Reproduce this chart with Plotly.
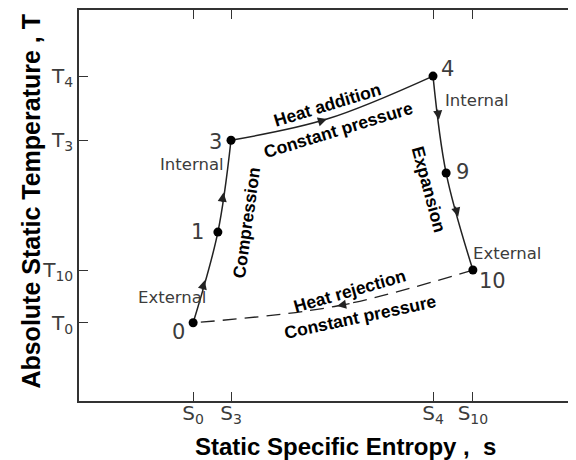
import plotly.graph_objects as go

# ---- data ----
state_labels = ["0", "1", "3", "4", "9", "10"]
state_s = [2.26, 2.75, 3.01, 7.01, 7.27, 7.80]
state_T = [2.00, 4.32, 6.67, 8.31, 5.83, 3.35]

heat_add_mid = [4.91, 7.21]      # s, T on the heat-addition curve
heat_rej_mid = [5.11, 2.43]      # s, T on the heat-rejection curve

s_tick_labels = ["S<sub>0</sub>", "S<sub>3</sub>", "S<sub>4</sub>", "S<sub>10</sub>"]
T_tick_labels = ["T<sub>0</sub>", "T<sub>3</sub>", "T<sub>10</sub>", "T<sub>4</sub>"]

S = dict(zip(state_labels, zip(state_s, state_T)))

LINE = "#222222"
TXT = "#3c3c3c"
fig = go.Figure()

# compression 0 -> 1 -> 3
fig.add_trace(go.Scatter(x=[S[k][0] for k in ["0", "1", "3"]], y=[S[k][1] for k in ["0", "1", "3"]],
                         mode="lines", line=dict(color=LINE, width=1.5, shape="spline"), hoverinfo="skip"))
# heat addition 3 -> 4
fig.add_trace(go.Scatter(x=[S["3"][0], heat_add_mid[0], S["4"][0]], y=[S["3"][1], heat_add_mid[1], S["4"][1]],
                         mode="lines", line=dict(color=LINE, width=1.5, shape="spline"), hoverinfo="skip"))
# expansion 4 -> 9 -> 10
fig.add_trace(go.Scatter(x=[S[k][0] for k in ["4", "9", "10"]], y=[S[k][1] for k in ["4", "9", "10"]],
                         mode="lines", line=dict(color=LINE, width=1.5, shape="spline"), hoverinfo="skip"))
# heat rejection 10 -> 0 (dashed)
fig.add_trace(go.Scatter(x=[S["10"][0], heat_rej_mid[0], S["0"][0]], y=[S["10"][1], heat_rej_mid[1], S["0"][1]],
                         mode="lines", line=dict(color=LINE, width=1.3, shape="spline", dash="14px,8px"),
                         hoverinfo="skip"))
# state points
fig.add_trace(go.Scatter(x=state_s, y=state_T, mode="markers",
                         marker=dict(color="black", size=9), hoverinfo="skip"))

ann = []


def arrow_on(a, b, f):
    ax_, ay_ = a
    bx, by = b
    tip = (ax_ + f * (bx - ax_), ay_ + f * (by - ay_))
    tail = (ax_ + (f - 0.12) * (bx - ax_), ay_ + (f - 0.12) * (by - ay_))
    return tip, tail


def add_arrow(tip, tail):
    ann.append(dict(x=tip[0], y=tip[1], ax=tail[0], ay=tail[1], xref="x", yref="y", axref="x", ayref="y",
                    text="", showarrow=True, arrowhead=2, arrowsize=1.4, arrowwidth=1.3, arrowcolor=LINE,
                    standoff=0))


add_arrow(*arrow_on(S["0"], S["1"], 0.47))
add_arrow(*arrow_on(S["1"], S["3"], 0.43))
add_arrow(*arrow_on(S["4"], S["9"], 0.45))
add_arrow(*arrow_on(S["9"], S["10"], 0.45))
d = (S["4"][0] - S["3"][0], S["4"][1] - S["3"][1])
add_arrow(tuple(heat_add_mid), (heat_add_mid[0] - 0.05 * d[0], heat_add_mid[1] - 0.05 * d[1]))
d = (S["10"][0] - S["0"][0], S["10"][1] - S["0"][1])
add_arrow(tuple(heat_rej_mid), (heat_rej_mid[0] + 0.05 * d[0], heat_rej_mid[1] + 0.05 * d[1]))


def label(text, pt, dx, dy, size=21, angle=0, color=TXT, bold=False, family="DejaVu Sans"):
    ann.append(dict(x=pt[0], y=pt[1], xref="x", yref="y", text=("<b>%s</b>" % text) if bold else text,
                    showarrow=False, xshift=dx, yshift=dy, textangle=angle,
                    font=dict(size=size, color=color, family=family),
                    xanchor="center", yanchor="middle"))


# state numbers
label("0", S["0"], -15, -9)
label("1", S["1"], -20, 0)
label("3", S["3"], -16, -2)
label("4", S["4"], 14, 7)
label("9", S["9"], 16, 1)
label("10", S["10"], 20, -11)
# internal / external
label("Internal", S["3"], -39, -24, size=16.5)
label("External", S["0"], -21, 25, size=16.5)
label("Internal", S["4"], 44, -24, size=16.5)
label("External", S["10"], 34, 17, size=16.5)


def mid(a, b):
    return ((S[a][0] + S[b][0]) / 2, (S[a][1] + S[b][1]) / 2)


BF = "Liberation Sans"
BS = 17.5
label("Heat addition", mid("3", "4"), -5, 3, size=BS, angle=-17, color="black", bold=True, family=BF)
label("Constant pressure", mid("3", "4"), 6, -22, size=BS, angle=-17, color="black", bold=True, family=BF)
label("Compression", mid("0", "3"), 34, 9, size=BS, angle=-82, color="black", bold=True, family=BF)
label("Expansion", mid("4", "10"), -24, -17, size=BS, angle=75, color="black", bold=True, family=BF)
label("Heat rejection", mid("10", "0"), 17, 5, size=BS, angle=-16, color="black", bold=True, family=BF)
label("Constant pressure", mid("10", "0"), 27, -21, size=BS, angle=-12, color="black", bold=True, family=BF)

# axis titles
ann.append(dict(x=0.527, y=-0.1176, xref="paper", yref="paper", showarrow=False,
                text="<b>Static Specific Entropy ,  s</b>", font=dict(size=24, color="black", family=BF),
                xanchor="center", yanchor="middle"))
ann.append(dict(x=-0.095, y=0.510, xref="paper", yref="paper", showarrow=False, textangle=-90,
                text="<b>Absolute Static Temperature , T</b>", font=dict(size=25, color="black", family=BF),
                xanchor="center", yanchor="middle"))

s_ticks = [S["0"][0], S["3"][0], S["4"][0], S["10"][0]]
T_ticks = [S["0"][1], S["3"][1], S["10"][1], S["4"][1]]

fig.update_layout(
    width=576, height=460,
    margin=dict(l=71, r=0, t=2, b=67, autoexpand=False),
    paper_bgcolor="white", plot_bgcolor="white",
    showlegend=False,
    annotations=ann,
    xaxis=dict(range=[0, 10], showgrid=False, zeroline=False, showline=True, linecolor="#333", linewidth=1.5,
               mirror="ticks", ticks="inside", ticklen=9, tickwidth=1.3, tickcolor="#333",
               tickvals=s_ticks, ticktext=s_tick_labels, automargin=False, ticklabelstandoff=-7,
               tickfont=dict(size=20, color=TXT, family="DejaVu Sans")),
    yaxis=dict(range=[0, 10], showgrid=False, zeroline=False, showline=True, linecolor="#333", linewidth=1.5,
               mirror="ticks", ticks="inside", ticklen=9, tickwidth=1.3, tickcolor="#333",
               tickvals=T_ticks, ticktext=T_tick_labels, automargin=False,
               tickfont=dict(size=20, color=TXT, family="DejaVu Sans")),
)

fig.write_html("out.html")
